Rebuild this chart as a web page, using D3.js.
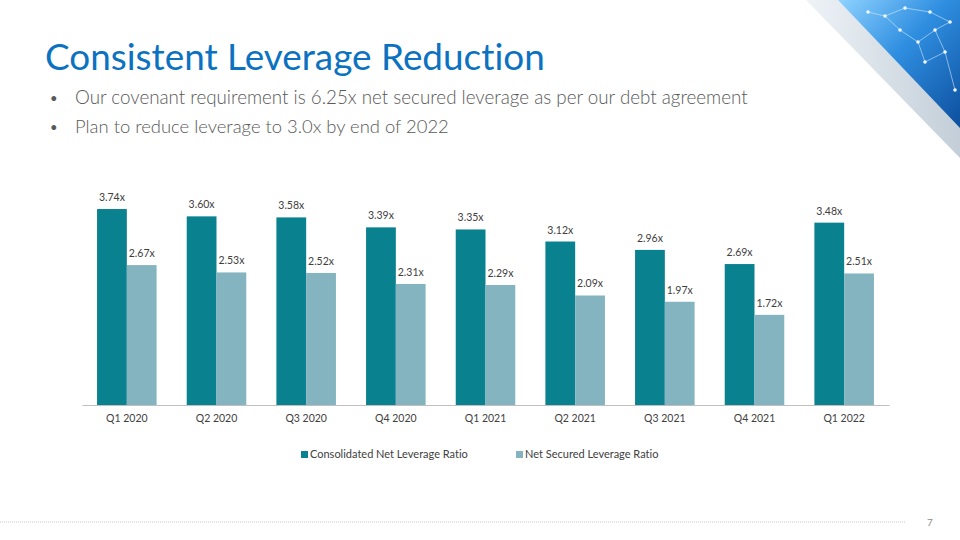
<!DOCTYPE html>
<html><head><meta charset="utf-8">
<script src="https://cdn.jsdelivr.net/npm/d3@7"></script>
<style>html,body{margin:0;padding:0;background:#fff;}svg{display:block;}text{font-variant-ligatures:none;font-feature-settings:"liga" 0;}</style>
</head><body>
<svg id="c" width="960" height="540"></svg>
<script>
const categories = ["Q1 2020","Q2 2020","Q3 2020","Q4 2020","Q1 2021","Q2 2021","Q3 2021","Q4 2021","Q1 2022"];
const consolidated = [3.74,3.60,3.58,3.39,3.35,3.12,2.96,2.69,3.48];
const netSecured = [2.67,2.53,2.52,2.31,2.29,2.09,1.97,1.72,2.51];
const seriesNames = ["Consolidated Net Leverage Ratio","Net Secured Leverage Ratio"];
const titleText = "Consistent Leverage Reduction";
const bullets = ["Our covenant requirement is 6.25x net secured leverage as per our debt agreement","Plan to reduce leverage to 3.0x by end of 2022"];

const colors = ["#0A818F","#85B4C1"];
const font = "Lato, 'Open Sans', sans-serif";
const svg = d3.select("#c");

// decoration top right
const defs = svg.append("defs");
const g1 = defs.append("linearGradient").attr("id","gb").attr("x1","0").attr("y1","0").attr("x2","1").attr("y2","1");
g1.append("stop").attr("offset","0").attr("stop-color","#8fd3ff");
g1.append("stop").attr("offset","0.45").attr("stop-color","#2f8ee0");
g1.append("stop").attr("offset","1").attr("stop-color","#0d4f9e");
const g2 = defs.append("linearGradient").attr("id","gw").attr("x1","0").attr("y1","0").attr("x2","1").attr("y2","0");
g2.append("stop").attr("offset","0").attr("stop-color","#eef3f7");
g2.append("stop").attr("offset","1").attr("stop-color","#c3ced8");
svg.append("polygon").attr("points","806,0 960,0 960,158").attr("fill","url(#gw)");
svg.append("polygon").attr("points","838,0 960,0 960,128").attr("fill","url(#gb)");
const net = [[868,12],[885,16],[900,30],[918,42],[935,30],[950,22],[925,62],[945,52],[955,90],[905,8],[930,12]];
const links = [[0,1],[1,2],[2,3],[3,4],[4,5],[3,6],[6,7],[7,8],[1,9],[9,10],[10,5],[4,7]];
svg.append("g").selectAll("line").data(links).join("line")
  .attr("x1",d=>net[d[0]][0]).attr("y1",d=>net[d[0]][1]).attr("x2",d=>net[d[1]][0]).attr("y2",d=>net[d[1]][1])
  .attr("stroke","#d8f0ff").attr("stroke-opacity",0.7).attr("stroke-width",0.8);
svg.append("g").selectAll("circle").data(net).join("circle")
  .attr("cx",d=>d[0]).attr("cy",d=>d[1]).attr("r",1.8).attr("fill","#f0f9ff");

// title
function fit(sel, w){ const l = sel.node().getComputedTextLength(); const fs = parseFloat(sel.attr("font-size")); sel.attr("font-size", fs*w/l); }
const t = svg.append("text").attr("x",45).attr("y",70).attr("font-family",font).attr("font-size",36).attr("fill","#0B72C1").text(titleText);
fit(t, 500);
const bY = [104,133], bW = [673,374];
bullets.forEach((b,i)=>{
  svg.append("text").attr("x",50).attr("y",bY[i]-1).attr("font-family",font).attr("font-size",13).attr("fill","#595959").text("•");
  const tt = svg.append("text").attr("x",75).attr("y",bY[i]).attr("font-family",font).attr("font-weight",300).attr("font-size",18).attr("fill","#595959").text(b);
  fit(tt, bW[i]);
});

// chart
const x = d3.scaleBand().domain(categories).range([82,889]).paddingInner(0.336).paddingOuter(0.168);
const x1 = d3.scaleBand().domain([0,1]).range([0,x.bandwidth()]);
const y = d3.scaleLinear().domain([0,4]).range([405,195.4]);
const data = categories.map((c,i)=>({c, v:[consolidated[i], netSecured[i]]}));
const grp = svg.append("g").selectAll("g").data(data).join("g").attr("transform",d=>`translate(${x(d.c)},0)`);
grp.selectAll("rect").data(d=>d.v.map((v,k)=>({v,k}))).join("rect")
  .attr("x",d=>x1(d.k)).attr("width",x1.bandwidth()).attr("y",d=>y(d.v)).attr("height",d=>y(0)-y(d.v)).attr("fill",d=>colors[d.k]);
grp.selectAll("text").data(d=>d.v.map((v,k)=>({v,k}))).join("text")
  .attr("x",d=>x1(d.k)+x1.bandwidth()/2).attr("y",d=>y(d.v)-8).attr("text-anchor","middle")
  .attr("font-family",font).attr("font-size",10.5).attr("fill","#404040").text(d=>d.v.toFixed(2)+"x");

const ax = svg.append("g").attr("transform","translate(0,405)").call(d3.axisBottom(x).tickSize(0).tickPadding(10));
ax.select(".domain").attr("stroke","#BFBFBF").attr("stroke-width",1);
ax.selectAll("text").attr("font-family",font).attr("font-size",10.5).attr("fill","#404040");

// legend
const lx = [301,516];
seriesNames.forEach((n,i)=>{
  svg.append("rect").attr("x",lx[i]).attr("y",451).attr("width",7).attr("height",7).attr("fill",colors[i]);
  svg.append("text").attr("x",lx[i]+9).attr("y",458).attr("font-family",font).attr("font-size",11).attr("fill","#404040").text(n);
});

// footer
svg.append("line").attr("x1",0).attr("x2",906).attr("y1",522).attr("y2",522).attr("stroke","#C8C8C8").attr("stroke-width",1).attr("stroke-dasharray","1,1");
svg.append("text").attr("x",927).attr("y",526).attr("font-family",font).attr("font-size",10).attr("fill","#8C8C8C").text("7");
</script>
</body></html>
